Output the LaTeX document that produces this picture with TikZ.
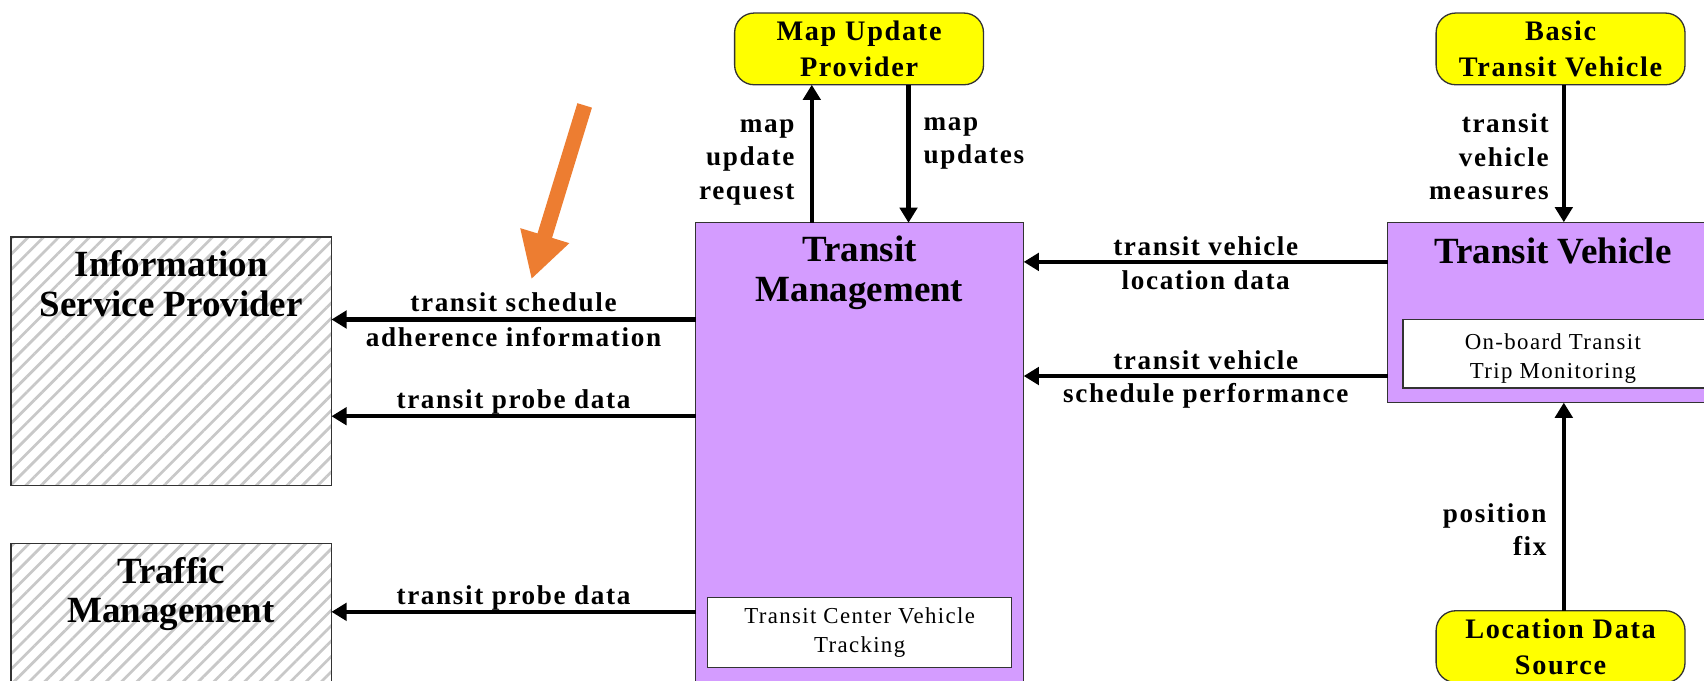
\documentclass[tikz,border=0pt]{standalone}
\usepackage{fontspec}
\setmainfont{Liberation Serif}
\newfontfamily\spacedserif[LetterSpace=6]{Liberation Serif}
\usetikzlibrary{arrows.meta,patterns.meta}

\definecolor{tmpurple}{RGB}{212,156,255}
\definecolor{termyellow}{RGB}{255,255,0}
\definecolor{hintorange}{RGB}{237,125,49}
\definecolor{hatchgray}{RGB}{200,200,200}

\begin{document}
\begin{tikzpicture}[x=1pt,y=-1pt,
  every node/.style={inner sep=0pt, outer sep=0pt},
  hatchbox/.style={draw=black!80, line width=1.2pt,
    pattern={Lines[angle=45,distance=10pt,line width=2.5pt]}, pattern color=hatchgray},
  purplebox/.style={draw=black!80, line width=1.2pt, fill=tmpurple},
  subbox/.style={draw=black!80, line width=1.2pt, fill=white, align=center,
    font=\spacedserif\fontsize{21}{27}\selectfont},
  subtext/.style={align=center, font=\spacedserif\fontsize{21}{27}\selectfont},
  provider/.style={draw=black!80, line width=1.2pt, fill=termyellow, rounded corners=18pt,
    minimum width=229pt, minimum height=66pt, align=center,
    font=\spacedserif\bfseries\fontsize{26}{33}\selectfont},
  title/.style={align=center, font=\bfseries\fontsize{34}{36}\selectfont},
  flow/.style={line width=4pt, draw=black, -{Triangle[length=14pt,width=16pt]}},
  hlabel/.style={inner sep=2pt, text height=17pt, text depth=5pt,
    font=\spacedserif\bfseries\fontsize{25}{31}\selectfont},
  vlabel/.style={inner sep=2pt, font=\spacedserif\bfseries\fontsize{25}{31}\selectfont},
  hintarrow/.style={draw=hintorange, line width=14pt, -{Triangle[length=42pt,width=44pt]}}
]
\useasboundingbox (0,0) rectangle (1568,626);
\fill[white] (0,0) rectangle (1568,626);
\clip (0,0) rectangle (1568,626);

% terminators on the left
\node[hatchbox, minimum width=295pt, minimum height=229pt] (isp) at (157.5,332.5) {};
\node[title] (ispT) at (157.5,261) {Information\\Service Provider};
\node[hatchbox, minimum width=295pt, minimum height=200pt] (tfm) at (157.5,600) {};
\node[title] (tfmT) at (157.5,547) {Traffic\\Management};

% transit management subsystem
\node[purplebox, minimum width=302pt, minimum height=495pt] (tm) at (791,452.5) {};
\node[title] (tmT) at (791,251) {Transit\\Management};
\node[subbox, minimum width=280pt, minimum height=64pt] (tmIn) at (791,582)
  {Transit Center Vehicle\\Tracking};

% terminators at the top and bottom
\node[provider] (map) at (790.5,45) {Map Update\\Provider};
\node[provider] (btv) at (1436,45) {Basic\\Transit Vehicle};
\node[provider] (lds) at (1436,595) {Location Data\\Source};

% transit vehicle subsystem
\node[purplebox, minimum width=423pt, minimum height=166pt] (tv) at (1488.5,287.5) {};
\node[title] (tvT) at (1429,231) {Transit Vehicle};
\node[subbox, minimum width=409pt, minimum height=63pt] (tvIn) at (1495.5,325.5) {};
\node[subtext] (tvInT) at (1429,330) {On-board Transit\\Trip Monitoring};

% rows and columns of the flows
\coordinate (r1) at (0,294);
\coordinate (r2) at (0,383);
\coordinate (r3) at (0,563);
\coordinate (r4) at (0,241);
\coordinate (r5) at (0,346);
\coordinate (c1) at (747,0);
\coordinate (c2) at (836,0);
\coordinate (c3) at (1439,0);

% flows
\draw[flow] (tm.west |- r1) -- node[hlabel, above] (l1a) {transit schedule}
  node[hlabel, below=6pt] (l1b) {adherence information} (isp.east |- r1);
\draw[flow] (tm.west |- r2) -- node[hlabel, above] (l2) {transit probe data} (isp.east |- r2);
\draw[flow] (tm.west |- r3) -- node[hlabel, above] (l3) {transit probe data} (tfm.east |- r3);
\draw[flow] (tv.west |- r4) -- node[hlabel, above=-1pt] (l4a) {transit vehicle}
  node[hlabel, below=6pt] (l4b) {location data} (tm.east |- r4);
\draw[flow] (tv.west |- r5) -- node[hlabel, above=-1pt] (l5a) {transit vehicle}
  node[hlabel, below=5pt] (l5b) {schedule performance} (tm.east |- r5);

\draw[flow] (tm.north -| c1) -- node[vlabel, align=right, left=14pt, yshift=-8pt] (l6)
  {map\\update\\request} (map.south -| c1);
\draw[flow] (map.south -| c2) -- node[vlabel, align=left, anchor=north west, pos=0.22,
  xshift=12pt] (l7) {map\\updates} (tm.north -| c2);
\draw[flow] (btv.south -| c3) -- node[vlabel, align=right, left=12pt, yshift=-3pt] (l8)
  {transit\\vehicle\\measures} (tv.north -| c3);
\draw[flow] (lds.north -| c3) -- node[vlabel, align=right, left=14pt, pos=0.39] (l9)
  {position\\fix} (tv.south -| c3);

% orange pointer
\coordinate (hintA) at (538,97);
\coordinate (hintB) at (489,257);
\draw[hintarrow] (hintA) -- (hintB);
\end{tikzpicture}
\end{document}
